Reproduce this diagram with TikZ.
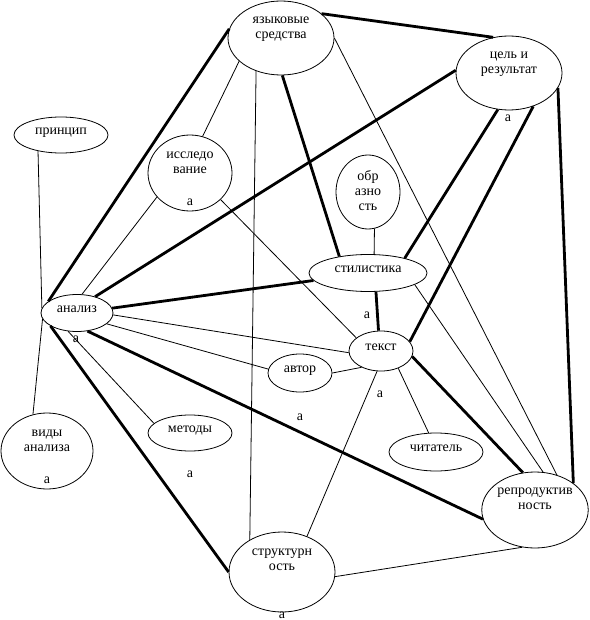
\documentclass[tikz,border=0pt]{standalone}
\usepackage{fontspec}
\setmainfont{Liberation Serif}
\usepackage{tikz}
\usetikzlibrary{shapes.geometric}

\begin{document}
\begin{tikzpicture}[x=1pt, y=-1pt,
  pojam/.style={draw, ellipse, inner sep=0pt, align=center, line width=0.8pt,
    font=\fontsize{14}{15}\selectfont, text depth=8pt},
  dvared/.style={pojam, text depth=20pt},
  slovo/.style={inner sep=0pt, font=\fontsize{14}{15}\selectfont},
  tanka/.style={line width=0.8pt},
  jaka/.style={line width=2.8pt}]
  \useasboundingbox (0,0) rectangle (589,620);
  \node[dvared, minimum width=106, minimum height=74] (yaz) at (281,38) {языковые\\средства};
  \node[dvared, minimum width=106, minimum height=74] (cel) at (509,73) {цель и\\результат};
  \node[pojam, minimum width=94, minimum height=36] (princ) at (61,135) {принцип};
  \node[dvared, minimum width=84, minimum height=76] (issl) at (190,173) {исследо\\вание};
  \node[pojam, minimum width=64, minimum height=74, text depth=3pt] (obr) at (368,192) {обр\\азно\\сть};
  \node[pojam, minimum width=118, minimum height=37] (stil) at (368,273) {стилистика};
  \node[pojam, minimum width=72, minimum height=37] (an) at (77,313) {анализ};
  \node[pojam, minimum width=64, minimum height=38] (avt) at (300,373) {автор};
  \node[pojam, minimum width=64, minimum height=40] (tekst) at (381,351) {текст};
  \node[pojam, minimum width=84, minimum height=36] (met) at (190,433) {методы};
  \node[dvared, minimum width=92, minimum height=76] (vid) at (47,451) {виды\\анализа};
  \node[pojam, minimum width=94, minimum height=38] (chit) at (436,452) {читатель};
  \node[dvared, minimum width=106, minimum height=76, text depth=22pt] (repr) at (535,510) {репродуктив\\ность};
  \node[dvared, minimum width=106, minimum height=80, text depth=24pt] (str) at (282,572) {структурн\\ость};

  \node[slovo] (a1) at (508,118) {а};
  \node[slovo] (a2) at (190,202) {а};
  \node[slovo] (a3) at (76,339) {а};
  \node[slovo] (a4) at (367,315) {а};
  \node[slovo] (a5) at (380,394) {а};
  \node[slovo] (a6) at (300,417) {а};
  \node[slovo] (a7) at (190,474) {а};
  \node[slovo] (a8) at (47,480) {а};
  \node[slovo] (a9) at (282,615) {а};

  \draw[jaka] (an.158) -- (yaz.170);
  \draw[jaka] (yaz.31) -- (cel.114);
  \draw[jaka] (an.42) -- (cel.177);
  \draw[jaka] (an) -- (stil);
  \draw[jaka] (yaz.272) -- (stil.150);
  \draw[jaka] (cel.253) -- (stil.22);
  \draw[jaka] (cel.306) -- (tekst.18);
  \draw[jaka] (cel.343) -- (repr.35);
  \draw[jaka] (stil.293) -- (tekst.97);
  \draw[jaka] (tekst.350) -- (repr.108);
  \draw[jaka] (an.300) -- (repr.190);
  \draw[jaka] (an.206) -- (str.180);

  \draw[tanka] (princ.215) -- (an.172);
  \draw[tanka] (an.190) -- (vid.111);
  \draw[tanka] (yaz.209) -- (issl.71);
  \draw[tanka] (yaz.233) -- (str.135);
  \draw[tanka] (yaz.0) -- (repr.58);
  \draw[tanka] (stil.346) -- (repr.78);
  \draw[tanka] (issl.216) -- (an.75);
  \draw[tanka] (issl.319) -- (tekst.152);
  \draw[tanka] (obr.280) -- (stil.72);
  \draw[tanka] (an.357) -- (tekst.183);
  \draw[tanka] (an.340) -- (avt.173);
  \draw[tanka] (an.244) -- (met.165);
  \draw[tanka] (avt.0) -- (tekst.220);
  \draw[tanka] (tekst.315) -- (chit.111);
  \draw[tanka] (tekst.259) -- (str.55);
  \draw[tanka] (str.355) -- (repr.251);
\end{tikzpicture}
\end{document}
